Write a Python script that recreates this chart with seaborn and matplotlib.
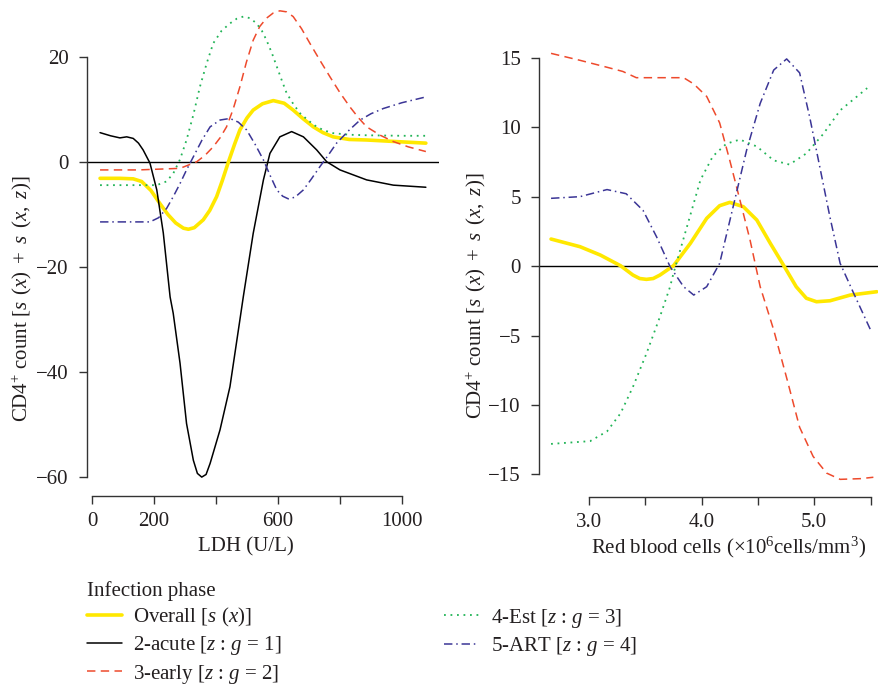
import matplotlib
matplotlib.use("Agg")
import matplotlib.pyplot as plt
import seaborn as sns

# ---- LDH panel (x in U/L) ----
ldh_overall_x = [26, 90, 133, 160, 190, 219, 245, 270, 295, 311, 330, 359, 380, 402, 420, 440,
                 460, 477, 500, 520, 550, 585, 620, 649, 680, 714, 745, 778, 830, 886, 980, 1077]
ldh_overall_y = [-3.1, -3.1, -3.2, -3.7, -5.4, -7.9, -10.0, -11.6, -12.6, -12.8, -12.5, -11.0,
                 -9.2, -6.6, -3.6, 0.0, 3.4, 6.1, 8.4, 9.9, 11.1, 11.7, 11.2, 9.9, 8.3, 6.7,
                 5.6, 4.8, 4.3, 4.2, 3.9, 3.6]

ldh_acute_x = [26, 60, 90, 112, 133, 150, 165, 187, 209, 230, 252, 262, 284, 305, 327, 340,
               354, 368, 381, 413, 445, 477, 488, 520, 553, 574, 606, 644, 682, 725, 757,
               800, 886, 972, 1077]
ldh_acute_y = [5.6, 5.0, 4.6, 4.8, 4.5, 3.6, 2.3, -0.2, -5.3, -13.5, -25.7, -28.8, -38.3,
               -49.8, -56.8, -59.3, -60.0, -59.5, -57.4, -51.0, -42.8, -30.1, -25.7, -13.6,
               -3.4, 1.65, 4.8, 5.8, 4.8, 2.3, 0.06, -1.5, -3.4, -4.4, -4.8]

ldh_early_x = [26, 150, 284, 310, 338, 365, 391, 413, 434, 455, 477, 498, 520, 541, 563, 585,
               606, 628, 649, 676, 703, 735, 768, 800, 832, 860, 886, 930, 972, 1020, 1077]
ldh_early_y = [-1.5, -1.5, -1.2, -0.6, 0.06, 1.3, 2.9, 4.6, 6.7, 10.0, 14.3, 19.0, 23.2,
               25.8, 27.4, 28.4, 28.8, 28.6, 27.7, 25.4, 22.6, 19.4, 16.2, 13.2, 10.5, 8.4,
               6.7, 5.1, 3.9, 2.9, 2.0]

ldh_est_x = [26, 209, 240, 262, 284, 305, 327, 348, 370, 391, 418, 445, 467, 488, 510, 531,
             548, 563, 580, 596, 612, 628, 650, 671, 698, 725, 750, 778, 830, 886, 1000, 1077]
ldh_est_y = [-4.4, -4.4, -3.7, -2.2, 0.5, 4.2, 9.0, 14.3, 18.8, 22.6, 25.0, 26.4, 27.3, 27.7,
             27.4, 26.4, 25.0, 23.2, 20.8, 18.2, 15.6, 13.1, 11.0, 9.3, 7.9, 6.7, 6.0, 5.5,
             5.2, 5.1, 5.0, 5.0]

ldh_art_x = [26, 187, 215, 241, 262, 284, 305, 327, 355, 381, 413, 445, 472, 499, 526, 553,
             575, 596, 615, 633, 655, 682, 708, 735, 762, 789, 830, 865, 900, 940, 1000, 1077]
ldh_art_y = [-11.4, -11.4, -10.6, -8.8, -6.6, -4.1, -1.5, 1.0, 4.2, 6.7, 8.0, 8.3, 7.6, 6.1,
             3.4, 0.4, -2.6, -5.3, -6.5, -7.0, -6.7, -5.3, -3.2, -0.9, 1.3, 3.6, 6.1, 8.0,
             9.2, 10.2, 11.3, 12.4]

# ---- Red blood cell panel (x in 10^6 cells/mm^3) ----
rbc_overall_x = [2.663, 2.92, 3.10, 3.28, 3.39, 3.45, 3.51, 3.57, 3.63, 3.75, 3.90, 4.045,
                 4.16, 4.25, 4.37, 4.49, 4.61, 4.73, 4.84, 4.93, 5.02, 5.14, 5.32, 5.555]
rbc_overall_y = [1.94, 1.39, 0.79, 0.02, -0.65, -0.9, -0.96, -0.9, -0.65, 0.02, 1.63, 3.43,
                 4.34, 4.58, 4.27, 3.31, 1.63, 0.02, -1.49, -2.32, -2.57, -2.50, -2.09, -1.85]

rbc_early_x = [2.663, 2.92, 3.16, 3.30, 3.42, 3.60, 3.84, 3.93, 4.045, 4.16, 4.25, 4.34,
               4.43, 4.52, 4.64, 4.76, 4.87, 4.99, 5.11, 5.23, 5.41, 5.525]
rbc_early_y = [15.3, 14.8, 14.3, 14.0, 13.55, 13.55, 13.55, 13.1, 12.2, 10.3, 7.6, 4.75,
               1.87, -1.49, -4.6, -8.2, -11.6, -13.7, -14.9, -15.35, -15.3, -15.2]

rbc_est_x = [2.663, 3.01, 3.16, 3.28, 3.39, 3.51, 3.63, 3.72, 3.75, 3.87, 3.99, 4.10, 4.22,
             4.34, 4.49, 4.64, 4.78, 4.93, 5.08, 5.23, 5.47]
rbc_est_y = [-12.8, -12.6, -11.9, -10.6, -8.7, -6.3, -3.65, -1.49, -0.53, 2.83, 6.2, 7.9,
             8.8, 9.1, 8.6, 7.6, 7.3, 8.1, 9.5, 11.2, 12.8]

rbc_art_x = [2.663, 2.92, 3.16, 3.33, 3.48, 3.60, 3.72, 3.84, 3.93, 4.045, 4.16, 4.28, 4.40,
             4.52, 4.64, 4.755, 4.87, 4.96, 5.05, 5.14, 5.23, 5.35, 5.50]
rbc_art_y = [4.87, 4.99, 5.5, 5.2, 4.0, 2.1, -0.05, -1.49, -2.09, -1.49, 0.19, 4.27, 8.35,
             11.7, 14.1, 14.9, 13.9, 10.7, 7.1, 3.5, 0.19, -1.96, -4.6]

series_labels = ["Overall [$s$ ($x$)]", "2-acute [$z$ : $g$ = 1]", "3-early [$z$ : $g$ = 2]",
                 "4-Est [$z$ : $g$ = 3]", "5-ART [$z$ : $g$ = 4]"]

ldh_ticks = [0, 200, 400, 600, 800, 1000]
ldh_ticklabels = ["0", "200", "", "600", "", "1000"]
rbc_ticks = [3.0, 3.5, 4.0, 4.5, 5.0, 5.5]
rbc_ticklabels = ["3.0", "", "4.0", "", "5.0", ""]

sns.set_style("ticks")
plt.rcParams["font.family"] = ["Liberation Serif", "DejaVu Serif"]
plt.rcParams["mathtext.fontset"] = "custom"
plt.rcParams["mathtext.rm"] = "Liberation Serif"
plt.rcParams["mathtext.it"] = "Liberation Serif:italic"
plt.rcParams["axes.unicode_minus"] = True

FS = 15
text_color = "#231f20"
styles = {
    "overall": dict(color="#ffe800", lw=2.6, linestyle="-"),
    "acute": dict(color="black", lw=1.1, linestyle="-"),
    "early": dict(color="#ee4a2c", lw=1.1, linestyle=(0, (5.5, 3.5))),
    "est": dict(color="#22b457", lw=1.3, linestyle=(0, (1, 2.6))),
    "art": dict(color="#3b3596", lw=1.1, linestyle=(0, (5.5, 2.5, 1, 2.5))),
}

W, H = 879, 684
fig = plt.figure(figsize=(W / 100, H / 100), dpi=100)


def px_axes(left, right, top, bottom):
    return fig.add_axes([left / W, 1 - bottom / H, (right - left) / W, (bottom - top) / H])


ax1 = px_axes(87, 439, 0, 496)
ax2 = px_axes(539, 879, 0, 497)

ldh_data = [("overall", ldh_overall_x, ldh_overall_y), ("acute", ldh_acute_x, ldh_acute_y),
            ("early", ldh_early_x, ldh_early_y), ("est", ldh_est_x, ldh_est_y),
            ("art", ldh_art_x, ldh_art_y)]
rbc_data = [("overall", rbc_overall_x, rbc_overall_y), ("early", rbc_early_x, rbc_early_y),
            ("est", rbc_est_x, rbc_est_y), ("art", rbc_art_x, rbc_art_y)]

# zero reference lines first, curves on top
for ax in (ax1, ax2):
    ax.axhline(0, color="black", lw=1.0, zorder=1)

handles = []
for (key, xs, ys), lab in zip(ldh_data, series_labels):
    sns.lineplot(x=xs, y=ys, ax=ax1, sort=False, estimator=None, zorder=3,
                 **styles[key])
    handles.append((plt.Line2D([], [], **styles[key]), lab))
for key, xs, ys in rbc_data:
    sns.lineplot(x=xs, y=ys, ax=ax2, sort=False, estimator=None, zorder=3,
                 **styles[key])

ax1.set_xlim(-16.1, 1119.4)
ax1.set_ylim(-63.6, 30.86)
ax1.set_xticks(ldh_ticks, ldh_ticklabels)
ax1.set_yticks([-60, -40, -20, 0, 20])
ax1.spines["left"].set_bounds(-60, 20)
ax1.spines["bottom"].set_bounds(0, 1000)

ax2.set_xlim(2.556, 5.575)
ax2.set_ylim(-16.62, 19.14)
ax2.set_xticks(rbc_ticks, rbc_ticklabels)
ax2.set_yticks([-15, -10, -5, 0, 5, 10, 15])
ax2.spines["left"].set_bounds(-15, 15)
ax2.spines["bottom"].set_bounds(3.0, 5.5)

ylab = r"CD4$^{+}$ count $[s\ \,(x)\ +\ s\ \,(x,\ z)]$"
for ax in (ax1, ax2):
    sns.despine(ax=ax)
    for side in ("left", "bottom"):
        ax.spines[side].set_color("#333333")
        ax.spines[side].set_linewidth(1.0)
    ax.tick_params(direction="out", length=6, width=1.0, color="#333333",
                   labelsize=FS, labelcolor=text_color)
    ax.tick_params(axis="y", pad=7)
    ax.tick_params(axis="x", pad=5.5)
    ax.set_ylabel(ylab, fontsize=FS, color=text_color)
    ax.yaxis.label.set_va("center")

ax1.set_xlabel("LDH (U/L)", fontsize=FS, color=text_color)
ax2.set_xlabel("Red blood cells (×10$^{6}$cells/mm$^{3}$)", fontsize=FS, color=text_color)
ax1.xaxis.set_label_coords((246 - 87) / 352, (496 - 547) / 496)
ax2.xaxis.set_label_coords((729 - 539) / 340, (497 - 547) / 497)
ax1.yaxis.set_label_coords((22 - 87) / 352, (496 - 299) / 496)
ax2.yaxis.set_label_coords((476 - 539) / 340, (497 - 296) / 497)
for ax in (ax1, ax2):
    ax.xaxis.label.set_va("center")
    if ax.get_legend() is not None:
        ax.get_legend().remove()

leg = fig.legend([h for h, _ in handles], [l for _, l in handles],
                 loc="upper left", bbox_to_anchor=(87 / W, 1 - 581 / H),
                 ncol=2, frameon=False, title="Infection phase", alignment="left",
                 fontsize=FS, title_fontsize=FS, handlelength=1.68, handletextpad=0.55,
                 columnspacing=7.8, labelspacing=0.25, borderpad=0, borderaxespad=0)
for t in leg.get_texts():
    t.set_color(text_color)
leg.get_title().set_color(text_color)

fig.savefig("out.png", dpi=100)
